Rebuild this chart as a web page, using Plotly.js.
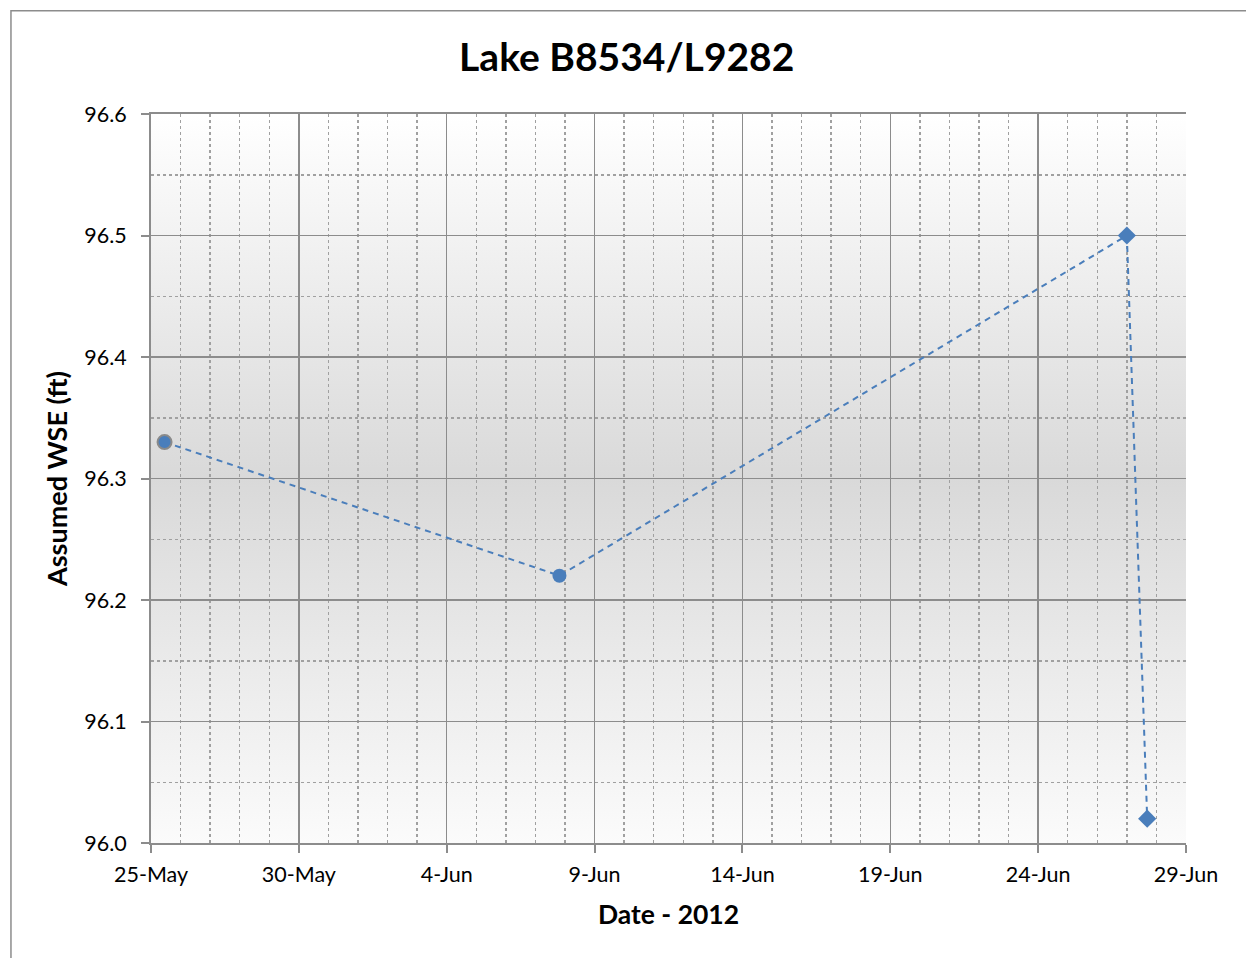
<!DOCTYPE html>
<html>
<head>
<meta charset="utf-8">
<script src="https://cdn.plot.ly/plotly-3.0.1.min.js"></script>
<style>
html,body{margin:0;padding:0;background:#fff;}
#chart{width:1246px;height:958px;}
</style>
</head>
<body>
<div id="chart"></div>
<script>
// Data
var dates = ['2012-05-25 11:00', '2012-06-07 19:30', '2012-06-27 00:00', '2012-06-27 16:30'];
var wse = [96.33, 96.22, 96.50, 96.02];
var symbols = ['circle', 'circle', 'diamond', 'diamond'];
var xTickVals = ['2012-05-25', '2012-05-30', '2012-06-04', '2012-06-09', '2012-06-14', '2012-06-19', '2012-06-24', '2012-06-29'];
var xTickText = ['25-May', '30-May', '4-Jun', '9-Jun', '14-Jun', '19-Jun', '24-Jun', '29-Jun'];
var titleText = 'Lake B8534/L9282';
var xTitle = 'Date - 2012';
var yTitle = 'Assumed WSE (ft)';

var FONT = 'Lato, "Open Sans", sans-serif';

var gradSvg = '<svg xmlns="http://www.w3.org/2000/svg" width="100" height="100" preserveAspectRatio="none">' +
  '<defs><linearGradient id="g" x1="0" y1="0" x2="0" y2="1">' +
  '<stop offset="0" stop-color="#ffffff"/>' +
  '<stop offset="0.5" stop-color="#d9d9d9"/>' +
  '<stop offset="1" stop-color="#fbfbfb"/>' +
  '</linearGradient></defs><rect width="100" height="100" fill="url(#g)"/></svg>';
var gradUri = 'data:image/svg+xml;base64,' + btoa(gradSvg);

var trace = {
  x: dates,
  y: wse,
  type: 'scatter',
  mode: 'lines+markers',
  line: {color: '#4a7ebb', width: 2, dash: '6px,5px'},
  marker: {
    symbol: symbols,
    size: [14, 14, 14, 14],
    opacity: 1,
    color: '#4a7ebb',
    line: {color: ['#8a8a8a', '#4a7ebb', '#4a7ebb', '#4a7ebb'], width: [2, 0, 0, 0]}
  },
  cliponaxis: false,
  hoverinfo: 'x+y'
};

var layout = {
  width: 1246,
  height: 958,
  margin: {l: 151, r: 60, t: 114, b: 115},
  paper_bgcolor: '#ffffff',
  plot_bgcolor: 'rgba(0,0,0,0)',
  showlegend: false,
  title: {
    text: '<b>' + titleText + '</b>',
    font: {family: FONT, size: 39, color: '#000'},
    x: 0.503, xanchor: 'center',
    y: 0.94, yanchor: 'middle'
  },
  xaxis: {
    type: 'date',
    range: ['2012-05-25', '2012-06-29'],
    tickmode: 'array',
    tickvals: xTickVals,
    ticktext: xTickText,
    ticks: 'outside',
    ticklen: 8,
    tickwidth: 2,
    tickcolor: '#8c8c8c',
    ticklabelstandoff: 3,
    tickfont: {family: FONT, size: 21.5, color: '#000'},
    showgrid: true,
    gridcolor: '#8c8c8c',
    gridwidth: 1.5,
    showline: true,
    linecolor: '#8c8c8c',
    linewidth: 2,
    mirror: true,
    zeroline: false,
    minor: {
      dtick: 86400000,
      tick0: '2012-05-25',
      showgrid: true,
      gridcolor: '#a0a0a0',
      gridwidth: 1.5,
      griddash: 'dot',
      ticks: ''
    },
    title: {text: '<b>' + xTitle + '</b>', font: {family: FONT, size: 26.5, color: '#000'}, standoff: 20}
  },
  yaxis: {
    range: [96.0, 96.6],
    dtick: 0.1,
    tick0: 96.0,
    tickformat: '.1f',
    ticks: 'outside',
    ticklen: 8,
    tickwidth: 2,
    tickcolor: '#8c8c8c',
    ticklabelstandoff: 10,
    tickfont: {family: FONT, size: 21.5, color: '#000'},
    showgrid: true,
    gridcolor: '#8c8c8c',
    gridwidth: 1.5,
    showline: true,
    linecolor: '#8c8c8c',
    linewidth: 2,
    zeroline: false,
    minor: {
      dtick: 0.05,
      showgrid: true,
      gridcolor: '#a0a0a0',
      gridwidth: 1.5,
      griddash: 'dot',
      ticks: ''
    },
    title: {text: '<b>' + yTitle + '</b>', font: {family: FONT, size: 27, color: '#000'}, standoff: 9}
  },
  images: [{
    source: gradUri,
    xref: 'paper', yref: 'paper',
    x: 0, y: 1, sizex: 1, sizey: 1,
    xanchor: 'left', yanchor: 'top',
    sizing: 'stretch',
    layer: 'below'
  }],
  shapes: [{
    type: 'rect',
    xref: 'paper', yref: 'paper',
    x0: -0.1353, x1: 1.2, y0: -0.3, y1: 1.1417,
    line: {color: '#8c8c8c', width: 1.5},
    fillcolor: 'rgba(0,0,0,0)',
    layer: 'below'
  }]
};

Plotly.newPlot('chart', [trace], layout, {displayModeBar: false, staticPlot: true});
</script>
</body>
</html>
